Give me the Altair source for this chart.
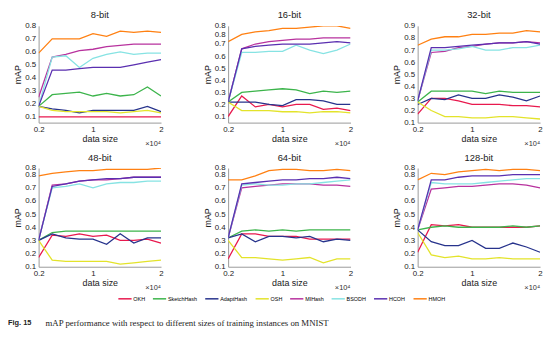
import altair as alt
import pandas as pd

sizes = [0.2, 0.4, 0.6, 0.8, 1.0, 1.2, 1.4, 1.6, 1.8, 2.0]
methods = ["OKH", "SketchHash", "AdaptHash", "OSH", "MIHash", "BSODH", "HCOH", "HMOH"]
colors = ["#e8194e", "#3cb44b", "#27338c", "#e3e32a", "#b8329e", "#86e3e3", "#5a2fb0", "#ff8012"]

panels = ["8-bit", "16-bit", "32-bit", "48-bit", "64-bit", "128-bit"]

okh = {
    "8-bit":   [0.10, 0.10, 0.10, 0.10, 0.10, 0.10, 0.10, 0.10, 0.10, 0.10],
    "16-bit":  [0.10, 0.27, 0.18, 0.20, 0.18, 0.20, 0.20, 0.16, 0.17, 0.15],
    "32-bit":  [0.17, 0.30, 0.30, 0.28, 0.25, 0.25, 0.25, 0.24, 0.24, 0.23],
    "48-bit":  [0.17, 0.34, 0.33, 0.35, 0.33, 0.34, 0.30, 0.30, 0.31, 0.28],
    "64-bit":  [0.16, 0.35, 0.35, 0.33, 0.33, 0.33, 0.31, 0.31, 0.31, 0.31],
    "128-bit": [0.21, 0.42, 0.41, 0.42, 0.40, 0.40, 0.40, 0.40, 0.40, 0.41],
}
sketchhash = {
    "8-bit":   [0.18, 0.27, 0.28, 0.29, 0.26, 0.28, 0.26, 0.27, 0.33, 0.26],
    "16-bit":  [0.22, 0.30, 0.31, 0.32, 0.33, 0.32, 0.29, 0.31, 0.30, 0.31],
    "32-bit":  [0.27, 0.36, 0.36, 0.36, 0.36, 0.34, 0.36, 0.35, 0.35, 0.35],
    "48-bit":  [0.30, 0.36, 0.37, 0.37, 0.37, 0.37, 0.37, 0.37, 0.37, 0.37],
    "64-bit":  [0.32, 0.37, 0.38, 0.37, 0.38, 0.37, 0.38, 0.38, 0.38, 0.38],
    "128-bit": [0.38, 0.40, 0.41, 0.40, 0.40, 0.40, 0.40, 0.41, 0.40, 0.41],
}
adapthash = {
    "8-bit":   [0.18, 0.16, 0.15, 0.13, 0.15, 0.15, 0.15, 0.15, 0.18, 0.14],
    "16-bit":  [0.22, 0.22, 0.22, 0.20, 0.19, 0.24, 0.24, 0.23, 0.20, 0.20],
    "32-bit":  [0.25, 0.30, 0.29, 0.33, 0.30, 0.30, 0.33, 0.31, 0.28, 0.32],
    "48-bit":  [0.30, 0.35, 0.32, 0.31, 0.31, 0.27, 0.35, 0.28, 0.32, 0.32],
    "64-bit":  [0.32, 0.35, 0.29, 0.33, 0.33, 0.32, 0.33, 0.29, 0.31, 0.30],
    "128-bit": [0.38, 0.29, 0.26, 0.26, 0.30, 0.24, 0.24, 0.28, 0.25, 0.21],
}
osh = {
    "8-bit":   [0.18, 0.15, 0.14, 0.14, 0.14, 0.14, 0.13, 0.14, 0.15, 0.13],
    "16-bit":  [0.22, 0.15, 0.15, 0.15, 0.14, 0.14, 0.13, 0.14, 0.14, 0.13],
    "32-bit":  [0.27, 0.20, 0.15, 0.15, 0.14, 0.14, 0.15, 0.15, 0.14, 0.13],
    "48-bit":  [0.30, 0.15, 0.14, 0.14, 0.14, 0.14, 0.12, 0.13, 0.14, 0.15],
    "64-bit":  [0.30, 0.17, 0.17, 0.16, 0.15, 0.16, 0.17, 0.13, 0.16, 0.16],
    "128-bit": [0.36, 0.19, 0.17, 0.18, 0.16, 0.16, 0.17, 0.16, 0.16, 0.16],
}
mihash = {
    "8-bit":   [0.25, 0.56, 0.58, 0.61, 0.62, 0.64, 0.65, 0.66, 0.66, 0.66],
    "16-bit":  [0.22, 0.66, 0.70, 0.72, 0.73, 0.74, 0.74, 0.75, 0.75, 0.75],
    "32-bit":  [0.28, 0.68, 0.69, 0.72, 0.73, 0.75, 0.76, 0.76, 0.77, 0.76],
    "48-bit":  [0.30, 0.72, 0.73, 0.75, 0.76, 0.76, 0.77, 0.78, 0.78, 0.78],
    "64-bit":  [0.32, 0.70, 0.71, 0.72, 0.73, 0.73, 0.73, 0.72, 0.72, 0.71],
    "128-bit": [0.38, 0.69, 0.70, 0.71, 0.71, 0.72, 0.73, 0.73, 0.72, 0.70],
}
bsodh = {
    "8-bit":   [0.18, 0.56, 0.57, 0.48, 0.55, 0.58, 0.60, 0.58, 0.59, 0.59],
    "16-bit":  [0.22, 0.63, 0.63, 0.64, 0.64, 0.69, 0.65, 0.62, 0.65, 0.70],
    "32-bit":  [0.28, 0.70, 0.70, 0.71, 0.73, 0.70, 0.70, 0.72, 0.72, 0.74],
    "48-bit":  [0.30, 0.70, 0.71, 0.73, 0.70, 0.73, 0.74, 0.74, 0.75, 0.75],
    "64-bit":  [0.32, 0.72, 0.73, 0.72, 0.72, 0.73, 0.73, 0.74, 0.75, 0.76],
    "128-bit": [0.38, 0.74, 0.73, 0.73, 0.73, 0.74, 0.75, 0.76, 0.77, 0.77],
}
hcoh = {
    "8-bit":   [0.18, 0.46, 0.46, 0.47, 0.48, 0.48, 0.48, 0.50, 0.52, 0.54],
    "16-bit":  [0.22, 0.66, 0.68, 0.69, 0.70, 0.70, 0.70, 0.71, 0.72, 0.71],
    "32-bit":  [0.28, 0.72, 0.72, 0.73, 0.74, 0.75, 0.76, 0.76, 0.77, 0.75],
    "48-bit":  [0.30, 0.71, 0.73, 0.75, 0.76, 0.77, 0.77, 0.78, 0.78, 0.78],
    "64-bit":  [0.32, 0.73, 0.74, 0.75, 0.76, 0.76, 0.77, 0.77, 0.78, 0.77],
    "128-bit": [0.38, 0.76, 0.76, 0.78, 0.79, 0.79, 0.79, 0.80, 0.80, 0.80],
}
hmoh = {
    "8-bit":   [0.59, 0.70, 0.70, 0.70, 0.74, 0.72, 0.76, 0.75, 0.76, 0.75],
    "16-bit":  [0.72, 0.78, 0.80, 0.81, 0.83, 0.83, 0.84, 0.85, 0.85, 0.83],
    "32-bit":  [0.74, 0.79, 0.81, 0.81, 0.83, 0.83, 0.84, 0.84, 0.86, 0.85],
    "48-bit":  [0.79, 0.81, 0.82, 0.83, 0.83, 0.84, 0.84, 0.84, 0.84, 0.85],
    "64-bit":  [0.76, 0.76, 0.79, 0.83, 0.84, 0.84, 0.83, 0.83, 0.84, 0.83],
    "128-bit": [0.76, 0.81, 0.80, 0.82, 0.83, 0.84, 0.83, 0.84, 0.84, 0.83],
}
series = [okh, sketchhash, adapthash, osh, mihash, bsodh, hcoh, hmoh]

y_domains = {
    "8-bit": [0.055, 0.8], "16-bit": [0.05, 0.85], "32-bit": [0.1, 0.9],
    "48-bit": [0.1, 0.85], "64-bit": [0.1, 0.85], "128-bit": [0.1, 0.85],
}
y_ticks = {
    "8-bit": [0.1, 0.2, 0.3, 0.4, 0.5, 0.6, 0.7, 0.8],
    "16-bit": [0.1, 0.2, 0.3, 0.4, 0.5, 0.6, 0.7, 0.78, 0.85],
    "32-bit": [0.1, 0.2, 0.3, 0.4, 0.5, 0.6, 0.7, 0.8, 0.9],
    "48-bit": [0.1, 0.2, 0.3, 0.4, 0.5, 0.6, 0.7, 0.8, 0.85],
    "64-bit": [0.1, 0.2, 0.3, 0.4, 0.5, 0.6, 0.7, 0.8, 0.85],
    "128-bit": [0.1, 0.2, 0.3, 0.4, 0.5, 0.6, 0.7, 0.8, 0.85],
}
x_ticks = [0.2, 1, 2]
caption_bold = "Fig. 15"
caption_text = "mAP performance with respect to different sizes of training instances on MNIST"

rows = []
for p in panels:
    for m, s in zip(methods, series):
        for i, v in enumerate(s[p]):
            rows.append({"panel": p, "method": m, "size": sizes[i], "mAP": v})
df = pd.DataFrame(rows)

W = 124
FONT = "Liberation Sans"


def panel_chart(p, h, first_of_bottom=False, show_legend=False):
    base = alt.Chart(df[df.panel == p])
    lines = base.mark_line(strokeWidth=1.3, clip=True).encode(
        x=alt.X("size:Q", scale=alt.Scale(domain=[0.2, 2], nice=False, zero=False),
                axis=alt.Axis(values=x_ticks, format="~g", title="data size",
                              labelFlush=False, titlePadding=1)),
        y=alt.Y("mAP:Q", scale=alt.Scale(domain=y_domains[p], nice=False, zero=False),
                axis=alt.Axis(values=y_ticks[p], format="~g", title="mAP",
                              labelOverlap=False, titlePadding=2)),
        color=alt.Color("method:N", sort=methods,
                        scale=alt.Scale(domain=methods, range=colors),
                        legend=alt.Legend(
                            orient="none", legendX=80, legendY=269,
                            direction="horizontal", columns=8, title=None,
                            symbolType="stroke", symbolStrokeWidth=1.5,
                            symbolSize=180, labelFontSize=5.5, labelFont=FONT,
                            columnPadding=4, labelOffset=1,
                        ) if show_legend else None),
        order=alt.Order("method:N"),
    )
    exp = alt.Chart(pd.DataFrame({"t": ["×10⁴"]})).mark_text(
        align="right", baseline="middle", fontSize=7.5, font=FONT, color="#333"
    ).encode(x=alt.value(W), y=alt.value(h + 22), text="t:N")
    layers = [lines, exp]
    if first_of_bottom:
        capdf = pd.DataFrame({"t": [caption_bold]})
        cap1 = alt.Chart(capdf).mark_text(
            align="left", baseline="middle", fontSize=7.5, font=FONT,
            fontWeight="bold", color="#222"
        ).encode(x=alt.value(-31), y=alt.value(h + 57), text="t:N")
        capdf2 = pd.DataFrame({"t": [caption_text]})
        cap2 = alt.Chart(capdf2).mark_text(
            align="left", baseline="middle", fontSize=8.9, font="Liberation Serif",
            color="#222"
        ).encode(x=alt.value(7), y=alt.value(h + 57), text="t:N")
        layers += [cap1, cap2]
    return alt.layer(*layers).properties(
        width=W, height=h,
        title=alt.TitleParams(p, fontSize=9.5, font=FONT, fontWeight="normal",
                              offset=2, color="#222"),
    )


charts = [
    panel_chart("8-bit", 98, show_legend=True),
    panel_chart("16-bit", 98),
    panel_chart("32-bit", 98),
    panel_chart("48-bit", 100, first_of_bottom=True),
    panel_chart("64-bit", 100),
    panel_chart("128-bit", 100),
]
chart = alt.ConcatChart(
    concat=charts, columns=3, spacing={"row": 46, "column": 68}, bounds="flush"
).properties(
    padding={"left": 0, "top": 0, "right": 2, "bottom": 2}
).configure_view(stroke=None).configure_axis(
    labelFont=FONT, titleFont=FONT, labelFontSize=8, titleFontSize=9,
    titleFontWeight="normal", labelColor="#222", titleColor="#222",
    domainColor="#999", ticks=False, labelPadding=3, grid=False,
)

chart.save("out.html", embed_options={"renderer": "svg", "actions": False})
